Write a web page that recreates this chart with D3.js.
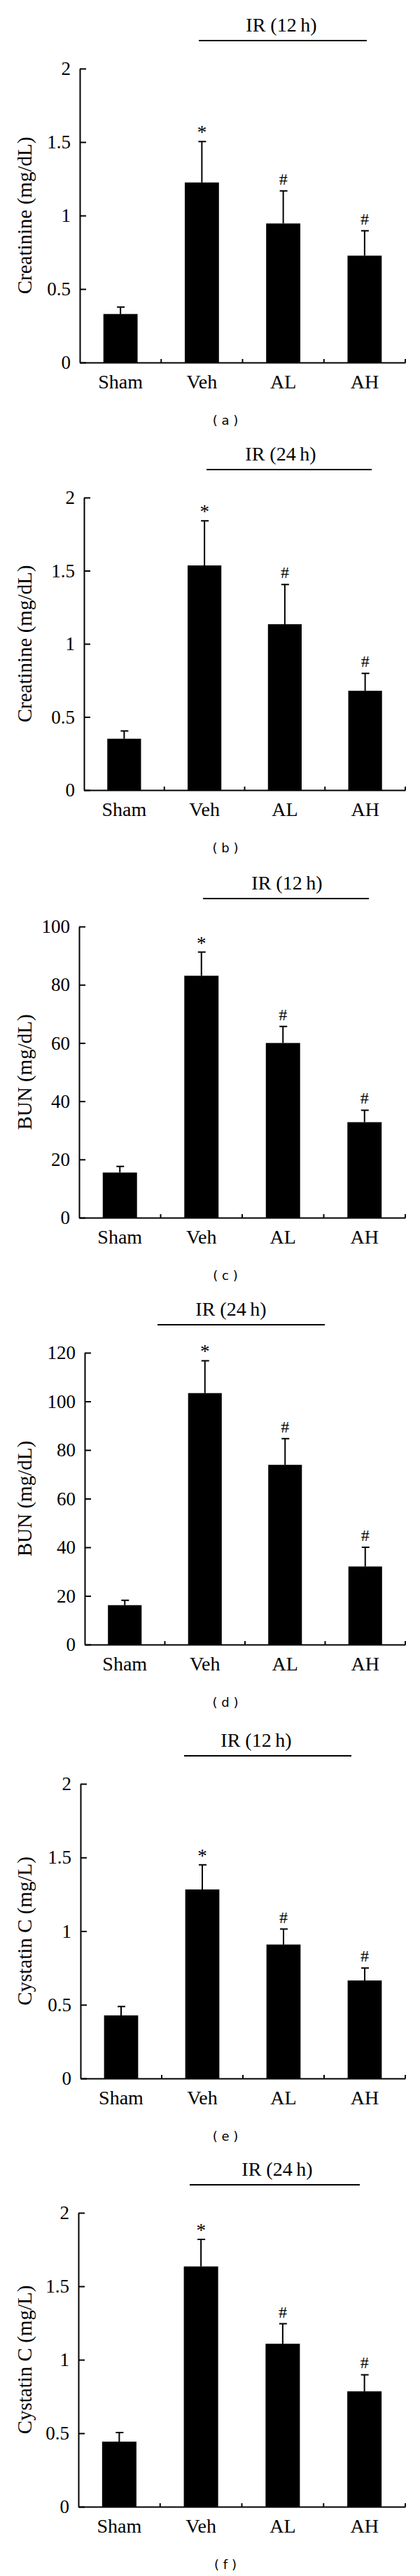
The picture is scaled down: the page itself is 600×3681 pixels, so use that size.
<!DOCTYPE html>
<html>
<head>
<meta charset="utf-8">
<script src="https://d3js.org/d3.v7.min.js"></script>
<style>
  body { margin: 0; background: #fff; }
  .tick text { font-family: "Liberation Serif", "Times New Roman", serif; }
</style>
</head>
<body>
<div id="figure"></div>
<script>
// Section 1: data
// ===========================
var categories = ["Sham", "Veh", "AL", "AH"];
var markers = ["", "*", "#", "#"];

// creatinine (mg/dL)
var creat12 = [0.33, 1.225, 0.946, 0.727];
var creat12Err = [0.047, 0.278, 0.222, 0.169];
var creat24 = [0.351, 1.536, 1.134, 0.679];
var creat24Err = [0.053, 0.305, 0.271, 0.119];

// BUN (mg/dL)
var bun12 = [15.5, 83.1, 60.0, 32.8];
var bun12Err = [2.1, 8.1, 5.7, 4.1];
var bun24 = [16.2, 103.4, 73.9, 32.1];
var bun24Err = [2.0, 13.3, 10.8, 7.9];

// cystatin C (mg/L)
var cys12 = [0.428, 1.283, 0.909, 0.665];
var cys12Err = [0.06, 0.167, 0.105, 0.084];
var cys24 = [0.443, 1.635, 1.109, 0.785];
var cys24Err = [0.062, 0.184, 0.136, 0.113];

// tick values
var ticks2 = [0, 0.5, 1, 1.5, 2];
var ticks100 = [0, 20, 40, 60, 80, 100];
var ticks120 = [0, 20, 40, 60, 80, 100, 120];

// Section 2: panel layout
// ===========================
var width = 600;
var height = 3681;
var axisRight = 579;

var panels = [
  { vals: creat12, errs: creat12Err, ticks: ticks2, label: "Creatinine (mg/dL)", ir: "IR (12\u2009h)", cap: "( a )",
    top: 98, bottom: 518, left: 114, irLine: [284, 524], irX: 402 },
  { vals: creat24, errs: creat24Err, ticks: ticks2, label: "Creatinine (mg/dL)", ir: "IR (24\u2009h)", cap: "( b )",
    top: 711, bottom: 1129, left: 120, irLine: [295, 531], irX: 401 },
  { vals: bun12, errs: bun12Err, ticks: ticks100, label: "BUN (mg/dL)", ir: "IR (12\u2009h)", cap: "( c )",
    top: 1324, bottom: 1740, left: 113, irLine: [290, 527], irX: 410 },
  { vals: bun24, errs: bun24Err, ticks: ticks120, label: "BUN (mg/dL)", ir: "IR (24\u2009h)", cap: "( d )",
    top: 1933, bottom: 2350, left: 121, irLine: [225, 464], irX: 330 },
  { vals: cys12, errs: cys12Err, ticks: ticks2, label: "Cystatin C (mg/L)", ir: "IR (12\u2009h)", cap: "( e )",
    top: 2549, bottom: 2970, left: 115, irLine: [263, 502], irX: 366 },
  { vals: cys24, errs: cys24Err, ticks: ticks2, label: "Cystatin C (mg/L)", ir: "IR (24\u2009h)", cap: "( f )",
    top: 3162, bottom: 3582, left: 112, irLine: [271, 514], irX: 396 }
];

var serif = "'Liberation Serif', 'Times New Roman', serif";

var svg = d3.select("#figure")
  .append("svg")
  .attr("width", width)
  .attr("height", height)
  .style("display", "block");

svg.append("rect").attr("width", width).attr("height", height).attr("fill", "#fff");

// Section 3: draw each panel
// ===========================
panels.forEach(function(p) {
  var g = svg.append("g");

  var x = d3.scaleBand()
    .domain(categories)
    .range([p.left, axisRight])
    .paddingInner(0.58)
    .paddingOuter(0.29);

  var y = d3.scaleLinear()
    .domain([0, d3.max(p.ticks)])
    .range([p.bottom, p.top]);

  // bars
  g.selectAll(".bar")
    .data(p.vals)
    .enter()
    .append("rect")
    .attr("x", function(d, i) { return x(categories[i]); })
    .attr("y", function(d) { return y(d); })
    .attr("width", x.bandwidth())
    .attr("height", function(d) { return p.bottom - y(d); })
    .attr("fill", "#000");

  // error bars (upper half only)
  g.selectAll(".err")
    .data(p.vals)
    .enter()
    .append("path")
    .attr("d", function(d, i) {
      var cx = x(categories[i]) + x.bandwidth() / 2;
      var yt = y(d + p.errs[i]);
      return "M" + cx + "," + y(d) + "V" + yt + "M" + (cx - 5) + "," + yt + "H" + (cx + 6);
    })
    .attr("stroke", "#000")
    .attr("stroke-width", 2)
    .attr("fill", "none");

  // significance marks
  g.selectAll(".mark")
    .data(p.vals)
    .enter()
    .append("text")
    .attr("x", function(d, i) { return x(categories[i]) + x.bandwidth() / 2; })
    .attr("y", function(d, i) {
      var yt = y(d + p.errs[i]);
      return markers[i] === "*" ? yt - 4 : yt - 9;
    })
    .attr("text-anchor", "middle")
    .style("font-family", serif)
    .style("font-size", function(d, i) { return markers[i] === "*" ? "27px" : "24px"; })
    .text(function(d, i) { return markers[i]; });

  // y axis, ticks point inward
  var yAxis = g.append("g")
    .attr("transform", "translate(" + p.left + ",0)")
    .call(d3.axisLeft(y).tickValues(p.ticks).tickFormat(d3.format("~g"))
      .tickSize(-9).tickSizeOuter(0).tickPadding(13));
  yAxis.select(".domain").attr("stroke-width", 2);
  yAxis.selectAll(".tick line").attr("stroke-width", 2);
  yAxis.selectAll(".tick text").style("font-size", "27px").attr("fill", "#000");

  // x axis, labels at band centres
  var xAxis = g.append("g")
    .attr("transform", "translate(0," + p.bottom + ")")
    .call(d3.axisBottom(x).tickSize(0).tickSizeOuter(0));
  xAxis.select(".domain").attr("stroke-width", 2);
  xAxis.selectAll(".tick text")
    .attr("y", 37)
    .attr("dy", null)
    .style("font-size", "28px")
    .attr("fill", "#000");

  // small upward ticks at the band boundaries
  g.selectAll(".btick")
    .data(categories)
    .enter()
    .append("line")
    .attr("x1", function(c) { return x(c) + x.bandwidth() + x.step() * x.paddingInner() / 2; })
    .attr("x2", function(c) { return x(c) + x.bandwidth() + x.step() * x.paddingInner() / 2; })
    .attr("y1", p.bottom)
    .attr("y2", p.bottom - 5)
    .attr("stroke", "#000")
    .attr("stroke-width", 2);

  // y axis title
  g.append("text")
    .attr("transform", "translate(45," + (p.top + p.bottom) / 2 + ")rotate(-90)")
    .attr("text-anchor", "middle")
    .style("font-family", serif)
    .style("font-size", "29px")
    .text(p.label);

  // IR bracket
  g.append("line")
    .attr("x1", p.irLine[0])
    .attr("x2", p.irLine[1])
    .attr("y1", p.top - 40)
    .attr("y2", p.top - 40)
    .attr("stroke", "#000")
    .attr("stroke-width", 2);

  g.append("text")
    .attr("x", p.irX)
    .attr("y", p.top - 53)
    .attr("text-anchor", "middle")
    .style("font-family", serif)
    .style("font-size", "28px")
    .text(p.ir);

  // panel caption
  g.append("text")
    .attr("x", 322)
    .attr("y", p.bottom + 83)
    .attr("dy", "0.35em")
    .attr("text-anchor", "middle")
    .style("font-family", "'DejaVu Sans', sans-serif")
    .style("font-size", "18px")
    .style("white-space", "pre")
    .text(p.cap);
});
</script>
</body>
</html>
